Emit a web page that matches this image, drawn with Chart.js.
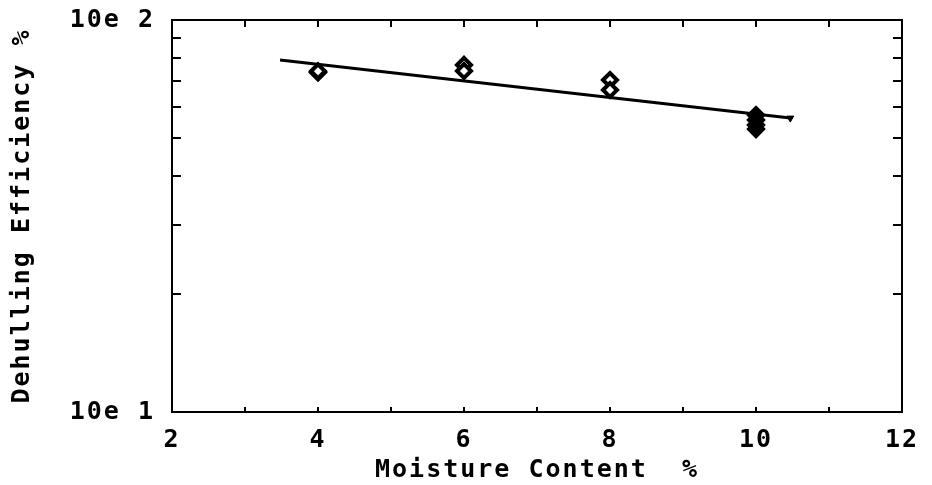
<!DOCTYPE html>
<html>
<head>
<meta charset="utf-8">
<script src="https://cdn.jsdelivr.net/npm/chart.js@4/dist/chart.umd.min.js"></script>
<style>
  html, body { margin: 0; padding: 0; background: #fff; }
  #wrap { width: 932px; height: 485px; }
</style>
</head>
<body>
<div id="wrap"><canvas id="c" width="932" height="485"></canvas></div>
<script>
// Measured dehulling efficiency (%) against moisture content (%)
const moisture   = [4, 4, 6, 6, 8, 8, 10, 10, 10, 10];
const efficiency = [73.5, 74.0, 76.8, 74.1, 70.3, 66.3, 57.2, 55.6, 54.0, 52.7];

// Fitted trend line end points
const fitMoisture   = [3.48, 10.47];
const fitEfficiency = [79.1, 56.2];

// Axis ranges and labelled ticks
const xRange = [2, 12];
const yRange = [10, 100];
const yTickValues = [10, 20, 30, 40, 50, 60, 70, 80, 90, 100];
const yTickLabels = { 10: '10e 1', 100: '10e 2' };

const FONT = { family: '"DejaVu Sans Mono", monospace', size: 25, weight: 'bold' };

const plotterText = {
  id: 'plotterText',
  beforeDraw(chart) {
    chart.ctx.letterSpacing = '2px';
  }
};

// Frame and inward tick marks on all four sides
const frameTicks = {
  id: 'frameTicks',
  afterDraw(chart) {
    const { ctx, chartArea: { left, right, top, bottom }, scales: { x, y } } = chart;
    ctx.save();
    ctx.strokeStyle = '#000';
    ctx.lineWidth = 2;
    ctx.strokeRect(left, top, right - left, bottom - top);
    ctx.beginPath();
    y.ticks.forEach(t => {
      if (t.value <= yRange[0] || t.value >= yRange[1]) return;
      const py = Math.round(y.getPixelForValue(t.value));
      ctx.moveTo(left, py); ctx.lineTo(left + 9, py);
      ctx.moveTo(right, py); ctx.lineTo(right - 9, py);
    });
    x.ticks.forEach(t => {
      if (t.value <= xRange[0] || t.value >= xRange[1]) return;
      const px = Math.round(x.getPixelForValue(t.value));
      ctx.moveTo(px, bottom); ctx.lineTo(px, bottom - 5);
      ctx.moveTo(px, top); ctx.lineTo(px, top + 7);
    });
    ctx.stroke();
    ctx.restore();
  }
};

new Chart(document.getElementById('c'), {
  type: 'scatter',
  data: {
    datasets: [
      {
        type: 'line',
        data: fitMoisture.map((v, i) => ({ x: v, y: fitEfficiency[i] })),
        borderColor: '#000',
        borderWidth: 3,
        pointStyle: [false, 'triangle'],
        rotation: 180,
        pointRadius: [0, 4],
        pointBackgroundColor: '#000',
        pointBorderColor: '#000',
        pointBorderWidth: 1,
        fill: false,
        order: 2
      },
      {
        data: moisture.map((v, i) => ({ x: v, y: efficiency[i] })),
        pointStyle: 'rectRot',
        pointRadius: 7,
        pointBorderWidth: 4,
        pointBorderColor: '#000',
        // the cluster at 10 % moisture overprints into a solid mark
        pointBackgroundColor: c => (c.raw && c.raw.x === 10 ? '#000' : '#fff'),
        order: 1
      }
    ]
  },
  options: {
    responsive: false,
    animation: false,
    layout: { padding: { top: 20, right: 30, left: 0, bottom: 0 } },
    plugins: { legend: { display: false }, tooltip: { enabled: false } },
    scales: {
      x: {
        type: 'linear',
        min: xRange[0], max: xRange[1],
        grid: { display: false },
        border: { display: false },
        ticks: {
          stepSize: 1,
          autoSkip: false,
          maxRotation: 0,
          color: '#000',
          font: FONT,
          padding: 5,
          callback: v => (v % 2 === 0 ? String(v) : '')
        },
        title: {
          display: true,
          text: 'Moisture Content  %',
          color: '#000',
          font: FONT,
          padding: { top: 3, bottom: 0 }
        },
        afterFit(scale) {
          scale.height = 73;
          scale.paddingLeft = 0;
          scale.paddingRight = 0;
        }
      },
      y: {
        type: 'logarithmic',
        min: yRange[0], max: yRange[1],
        grid: { display: false },
        border: { display: false },
        afterBuildTicks(scale) {
          scale.ticks = yTickValues.map(v => ({ value: v }));
        },
        ticks: {
          autoSkip: false,
          color: '#000',
          font: FONT,
          padding: 9,
          callback: v => yTickLabels[v] || ''
        },
        title: {
          display: true,
          text: 'Dehulling Efficiency %',
          color: '#000',
          font: FONT,
          padding: { top: 7, bottom: 0 }
        },
        afterFit(scale) {
          scale.width = 172;
          scale.paddingTop = 0;
          scale.paddingBottom = 0;
        }
      }
    }
  },
  plugins: [plotterText, frameTicks]
});
</script>
</body>
</html>
